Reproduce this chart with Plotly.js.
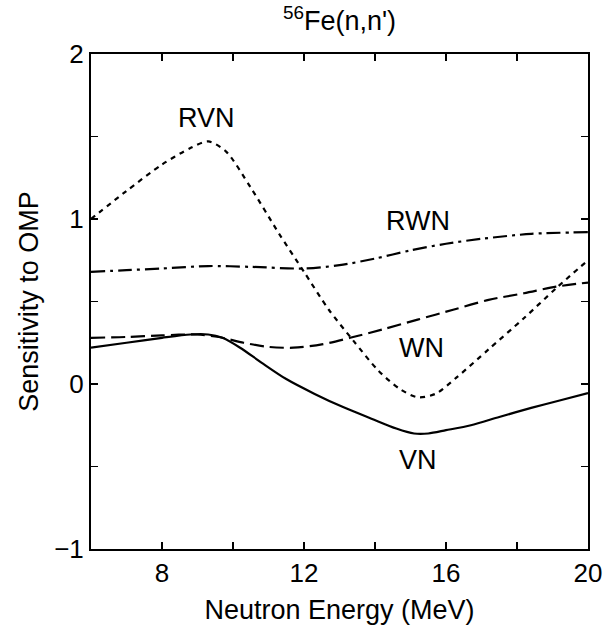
<!DOCTYPE html>
<html>
<head>
<meta charset="utf-8">
<script src="https://cdn.plot.ly/plotly-3.0.1.min.js"></script>
<style>html,body{margin:0;padding:0;background:#fff;}#chart{width:606px;height:629px;}</style>
</head>
<body>
<div id="chart"></div>
<script>
// Data
const rvnE = [6, 7, 8, 8.8, 9.3, 9.8, 10.5, 11.3, 12.0, 12.7, 13.4, 14.1, 14.7, 15.2, 15.7, 16.3, 17.2, 18.2, 19.1, 20];
const rvnS = [1.0, 1.17, 1.33, 1.43, 1.47, 1.41, 1.19, 0.91, 0.68, 0.45, 0.26, 0.08, -0.03, -0.08, -0.06, 0.04, 0.21, 0.40, 0.58, 0.75];

const rwnE = [6, 7, 8, 9.3, 10.5, 12, 13, 14, 15, 16, 17, 18.4, 20];
const rwnS = [0.68, 0.69, 0.70, 0.715, 0.71, 0.70, 0.72, 0.76, 0.81, 0.85, 0.88, 0.91, 0.92];

const wnE = [6, 7, 8, 9, 9.6, 10.3, 11, 11.7, 12.5, 13.3, 14.2, 15.2, 16.2, 17.2, 18.2, 19.1, 20];
const wnS = [0.28, 0.285, 0.295, 0.30, 0.285, 0.25, 0.225, 0.22, 0.24, 0.28, 0.33, 0.39, 0.45, 0.51, 0.55, 0.59, 0.615];

const vnE = [6, 7, 8, 8.8, 9.3, 9.7, 10.2, 10.8, 11.5, 12.3, 13.1, 13.9, 14.6, 15.1, 15.5, 16.0, 16.7, 17.5, 18.4, 19.2, 20];
const vnS = [0.22, 0.25, 0.28, 0.30, 0.30, 0.28, 0.22, 0.13, 0.03, -0.06, -0.14, -0.21, -0.27, -0.30, -0.30, -0.28, -0.25, -0.20, -0.145, -0.10, -0.055];

const xTickVals = [6, 8, 10, 12, 14, 16, 18, 20];
const xTickText = ['', '8', '', '12', '', '16', '', '20'];
const yTickVals = [-1, -0.5, 0, 0.5, 1, 1.5, 2];
const yTickText = ['\u22121', '', '0', '', '1', '', '2'];

const curveLabels = ['RVN', 'RWN', 'WN', 'VN'];
const labelE = [9.25, 15.2, 15.3, 15.2];
const labelS = [1.61, 0.99, 0.22, -0.46];

const FONT = 'Liberation Sans, Arial, Helvetica, sans-serif';

function tr(x, y, dash) {
  return {x: x, y: y, type: 'scatter', mode: 'lines',
    line: {color: '#000', width: 2.2, dash: dash, shape: 'spline', smoothing: 0.8},
    hoverinfo: 'skip', showlegend: false};
}

const data = [
  tr(rvnE, rvnS, '5px,5px'),
  tr(rwnE, rwnS, '14px,5px,3px,5px'),
  tr(wnE, wnS, '14px,6px'),
  tr(vnE, vnS, 'solid')
];

const annotations = curveLabels.map((t, i) => ({
  x: labelE[i], y: labelS[i], xref: 'x', yref: 'y', text: t, showarrow: false,
  font: {family: FONT, size: 27, color: '#000'}
}));

const layout = {
  width: 606, height: 629,
  margin: {l: 91, r: 18, t: 54, b: 80, pad: 0},
  paper_bgcolor: '#fff', plot_bgcolor: '#fff',
  font: {family: FONT, size: 26, color: '#000'},
  title: {text: '<sup>56</sup>Fe(n,n\')', x: 0.5 + (91 - 18) / 2 / 606, xanchor: 'center', y: 1 - 21 / 629, yanchor: 'middle',
          font: {family: FONT, size: 27, color: '#000'}},
  xaxis: {
    range: [6, 20], tickmode: 'array', tickvals: xTickVals, ticktext: xTickText,
    ticks: 'inside', ticklen: 7, tickwidth: 1.5, tickcolor: '#000',
    showline: true, linecolor: '#000', linewidth: 2, mirror: 'allticks',
    showgrid: false, zeroline: false,
    tickfont: {family: FONT, size: 26, color: '#000'},
    title: {text: 'Neutron Energy (MeV)', font: {family: FONT, size: 27, color: '#000'}, standoff: 13}
  },
  yaxis: {
    range: [-1, 2], tickmode: 'array', tickvals: yTickVals, ticktext: yTickText,
    ticks: 'inside', ticklen: 7, tickwidth: 1.5, tickcolor: '#000',
    showline: true, linecolor: '#000', linewidth: 2, mirror: 'allticks',
    showgrid: false, zeroline: false,
    tickfont: {family: FONT, size: 26, color: '#000'},
    title: {text: 'Sensitivity to OMP', font: {family: FONT, size: 27, color: '#000'}, standoff: 8}
  },
  annotations: annotations
};

Plotly.newPlot('chart', data, layout, {displayModeBar: false, staticPlot: true});
</script>
</body>
</html>
